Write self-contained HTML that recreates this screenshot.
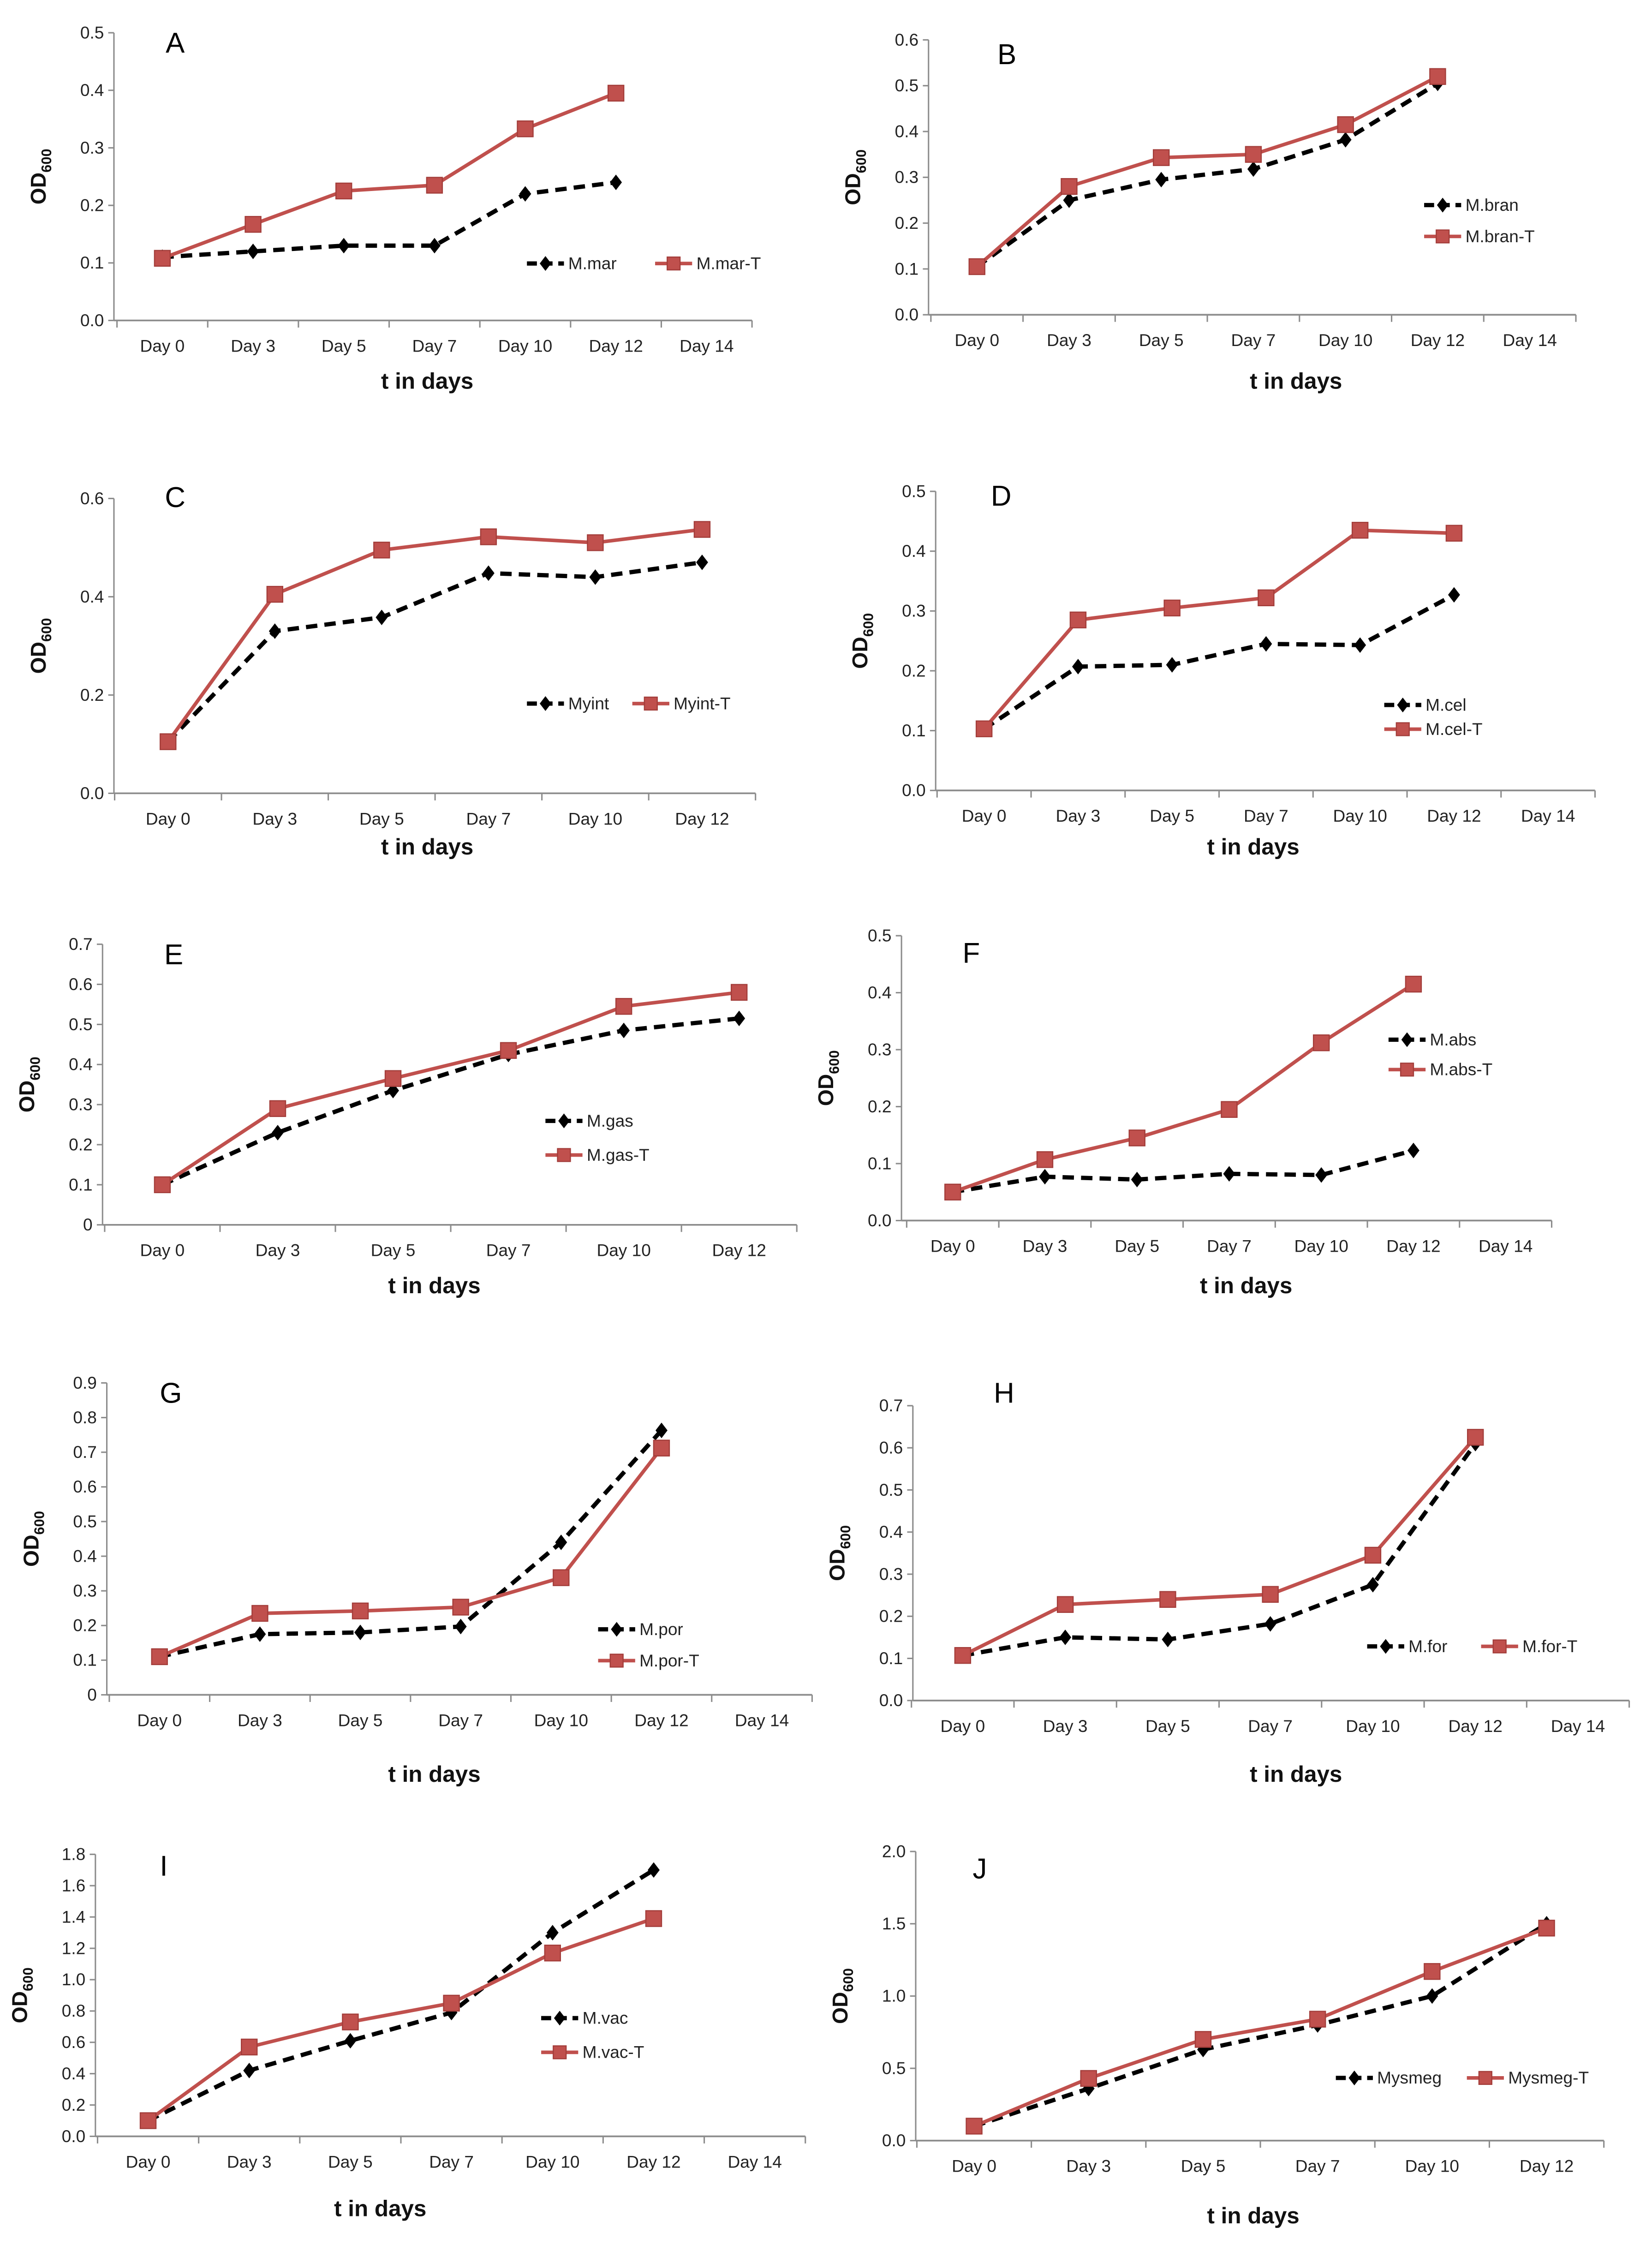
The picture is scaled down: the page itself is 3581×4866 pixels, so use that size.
<!DOCTYPE html>
<html><head><meta charset="utf-8"><style>
html,body{margin:0;padding:0;background:#fff}
svg{display:block}
text{font-family:"Liberation Sans Narrow","Liberation Sans",sans-serif}
</style></head><body>
<svg id="fig" xmlns="http://www.w3.org/2000/svg" width="3581" height="4866" viewBox="0 0 1160 1576.3" preserveAspectRatio="none"></svg>
<script>
// ---- data arrays (OD600 values) ----
const catsFull = ["Day 0","Day 3","Day 5","Day 7","Day 10","Day 12","Day 14"];
const catsShort = ["Day 0","Day 3","Day 5","Day 7","Day 10","Day 12"];
const aBlack = [0.11,0.12,0.13,0.13,0.22,0.24];
const aRed   = [0.108,0.167,0.225,0.235,0.333,0.395];
const bBlack = [0.105,0.25,0.295,0.318,0.382,0.505];
const bRed   = [0.105,0.28,0.343,0.35,0.415,0.52];
const cBlack = [0.105,0.33,0.358,0.448,0.44,0.47];
const cRed   = [0.105,0.405,0.495,0.522,0.51,0.537];
const dBlack = [0.103,0.207,0.21,0.245,0.243,0.327];
const dRed   = [0.103,0.285,0.305,0.322,0.435,0.43];
const eBlack = [0.1,0.23,0.335,0.425,0.485,0.515];
const eRed   = [0.1,0.29,0.365,0.435,0.545,0.58];
const fBlack = [0.05,0.077,0.072,0.082,0.08,0.123];
const fRed   = [0.05,0.107,0.145,0.195,0.312,0.415];
const gBlack = [0.11,0.175,0.18,0.197,0.44,0.763];
const gRed   = [0.11,0.235,0.242,0.253,0.338,0.712];
const hBlack = [0.107,0.15,0.145,0.182,0.275,0.61];
const hRed   = [0.107,0.228,0.24,0.252,0.345,0.625];
const iBlack = [0.1,0.42,0.61,0.79,1.3,1.7];
const iRed   = [0.1,0.57,0.73,0.85,1.17,1.39];
const jBlack = [0.1,0.36,0.63,0.8,1.0,1.5];
const jRed   = [0.1,0.43,0.7,0.84,1.17,1.47];
const aNames = ["M.mar","M.mar-T"], bNames=["M.bran","M.bran-T"], cNames=["Myint","Myint-T"],
      dNames=["M.cel","M.cel-T"], eNames=["M.gas","M.gas-T"], fNames=["M.abs","M.abs-T"],
      gNames=["M.por","M.por-T"], hNames=["M.for","M.for-T"], iNames=["M.vac","M.vac-T"], jNames=["Mysmeg","Mysmeg-T"];
const yMaxes = {A:0.5,B:0.6,C:0.6,D:0.5,E:0.7,F:0.5,G:0.9,H:0.7,I:1.8,J:2.0};
const ySteps = {A:0.1,B:0.1,C:0.2,D:0.1,E:0.1,F:0.1,G:0.1,H:0.1,I:0.2,J:0.5};

// ---- layout (geometry only) ----
const panels = [
 {id:"A",ax:80,y0:225,yt:23,c0:114,sp:63.7,cats:catsFull,blk:aBlack,red:aRed,names:aNames,zero:"0.0",lab:[123,30],title:[300,268],leg:"row",lx:370,ly:185,lx2:460},
 {id:"B",ax:652,y0:221,yt:28,c0:686,sp:64.7,cats:catsFull,blk:bBlack,red:bRed,names:bNames,zero:"0.0",lab:[707,38],title:[910,268],leg:"col",lx:1000,ly:144,ly2:166},
 {id:"C",ax:80,y0:557,yt:350,c0:118,sp:75,cats:catsShort,blk:cBlack,red:cRed,names:cNames,zero:"0.0",lab:[123,349],title:[300,595],leg:"row",lx:370,ly:494,lx2:444},
 {id:"D",ax:657,y0:555,yt:345,c0:691,sp:66,cats:catsFull,blk:dBlack,red:dRed,names:dNames,zero:"0.0",lab:[703,348],title:[880,595],leg:"col",lx:972,ly:495,ly2:512},
 {id:"E",ax:72,y0:860,yt:663,c0:114,sp:81,cats:catsShort,blk:eBlack,red:eRed,names:eNames,zero:"0",lab:[122,670],title:[305,903],leg:"col",lx:383,ly:787,ly2:811},
 {id:"F",ax:633,y0:857,yt:657,c0:669,sp:64.7,cats:catsFull,blk:fBlack,red:fRed,names:fNames,zero:"0.0",lab:[682,669],title:[875,903],leg:"col",lx:975,ly:730,ly2:751},
 {id:"G",ax:75,y0:1190,yt:971,c0:112,sp:70.5,cats:catsFull,blk:gBlack,red:gRed,names:gNames,zero:"0",lab:[120,978],title:[305,1246],leg:"col",lx:420,ly:1144,ly2:1166},
 {id:"H",ax:641,y0:1194,yt:987,c0:676,sp:72,cats:catsFull,blk:hBlack,red:hRed,names:hNames,zero:"0.0",lab:[705,978],title:[910,1246],leg:"row",lx:960,ly:1156,lx2:1040},
 {id:"I",ax:67,y0:1500,yt:1302,c0:104,sp:71,cats:catsFull,blk:iBlack,red:iRed,names:iNames,zero:"0.0",lab:[115,1310],title:[267,1551],leg:"col",lx:380,ly:1417,ly2:1441},
 {id:"J",ax:643,y0:1503,yt:1300,c0:684,sp:80.4,cats:catsShort,blk:jBlack,red:jRed,names:jNames,zero:"0.0",lab:[688,1312],title:[880,1556],leg:"row",lx:938,ly:1459,lx2:1030}
];
const NS="http://www.w3.org/2000/svg";
const svg=document.getElementById("fig");
function mk(tag,attrs,parent){const e=document.createElementNS(NS,tag);for(const k in attrs)e.setAttribute(k,attrs[k]);parent.appendChild(e);return e;}
const AX="#8c8c8c", RED="#c0504d", REDE="#a33d3a";
function diamond(g,x,y,s){return mk("polygon",{points:`${x},${y-s*1.3} ${x+s},${y} ${x},${y+s*1.3} ${x-s},${y}`,fill:"#000"},g);}
function square(g,x,y,s){return mk("rect",{x:x-s,y:y-s,width:2*s,height:2*s,fill:RED,stroke:REDE,"stroke-width":0.8},g);}
panels.forEach(p=>{
  const g=mk("g",{},svg);
  
  
  const ymax=yMaxes[p.id], ystep=ySteps[p.id];
  const ys=v=>p.y0-(v/ymax)*(p.y0-p.yt);
  const xs=i=>p.c0+i*p.sp;
  const xEnd=p.c0-p.sp/2+p.cats.length*p.sp;
  const xStart=p.ax;
  const ya=mk("line",{x1:p.ax,y1:p.yt,x2:p.ax,y2:p.y0,stroke:AX,"stroke-width":1},g);
  
  
  const xa=mk("line",{x1:xStart,y1:p.y0,x2:xEnd,y2:p.y0,stroke:AX,"stroke-width":1.2},g);
  
  
  const n=Math.round(ymax/ystep);
  for(let k=0;k<=n;k++){
    const v=k*ystep, y=ys(v);
    mk("line",{x1:p.ax-4,y1:y,x2:p.ax,y2:y,stroke:AX,"stroke-width":1},g);
    const t=mk("text",{x:p.ax-7,y:y+4,"font-size":12,"text-anchor":"end",fill:"#222"},g);
    t.textContent=k===0?p.zero:v.toFixed(1);
    
    
  }
  for(let i=0;i<=p.cats.length;i++){
    const x=p.c0-p.sp/2+i*p.sp;
    mk("line",{x1:x,y1:p.y0,x2:x,y2:p.y0+5,stroke:AX,"stroke-width":1},g);
  }
  p.cats.forEach((c,i)=>{
    const t=mk("text",{x:xs(i),y:p.y0+22,"font-size":12,"text-anchor":"middle",fill:"#222"},g);
    t.textContent=c;
    
    
  });
  const tt=mk("text",{x:p.title[0],y:p.title[1]+5,"font-size":16,"font-weight":"bold","text-anchor":"middle",fill:"#111"},g);
  tt.textContent="t in days";
  
  
  const yx=p.ax-48, ym=(p.y0+p.yt)/2;
  const yt=mk("text",{x:0,y:0,"font-size":15,"font-weight":"bold","text-anchor":"middle",fill:"#111",transform:`translate(${yx},${ym}) rotate(-90)`,style:'font-family:"Liberation Sans",sans-serif'},g);
  
  
  const t1=mk("tspan",{},yt); t1.textContent="OD";
  const t2=mk("tspan",{"font-size":10,dy:4},yt); t2.textContent="600";
  const pl=mk("text",{x:p.lab[0],y:p.lab[1]+7,"font-size":20,"text-anchor":"middle",fill:"#000"},g);
  pl.textContent=p.id;
  
  
  const bp=p.blk.map((v,i)=>`${xs(i)},${ys(v)}`).join(" ");
  const rp=p.red.map((v,i)=>`${xs(i)},${ys(v)}`).join(" ");
  const bl=mk("polyline",{points:bp,fill:"none",stroke:"#000","stroke-width":3,"stroke-dasharray":"8,5"},g);
  
  
  const rl=mk("polyline",{points:rp,fill:"none",stroke:RED,"stroke-width":2.5},g);
  
  
  p.blk.forEach((v,i)=>{const m=diamond(g,xs(i),ys(v),4.2);
    
    });
  p.red.forEach((v,i)=>{const m=square(g,xs(i),ys(v),5.5);
    
    });
  const lg=mk("g",{},g);
  
  
  const e1x=p.lx, e1y=p.ly;
  const e2x=p.leg==="row"?p.lx2:p.lx, e2y=p.leg==="row"?p.ly:p.ly2;
  mk("line",{x1:e1x,y1:e1y,x2:e1x+26,y2:e1y,stroke:"#000","stroke-width":3,"stroke-dasharray":"7,4"},lg);
  diamond(lg,e1x+13,e1y,4);
  const l1=mk("text",{x:e1x+29,y:e1y+4,"font-size":12,fill:"#222"},lg); l1.textContent=p.names[0];
  
  
  mk("line",{x1:e2x,y1:e2y,x2:e2x+26,y2:e2y,stroke:RED,"stroke-width":2.5},lg);
  square(lg,e2x+13,e2y,4.5);
  const l2=mk("text",{x:e2x+29,y:e2y+4,"font-size":12,fill:"#222"},lg); l2.textContent=p.names[1];
  
  
});
</script>
</body></html>
